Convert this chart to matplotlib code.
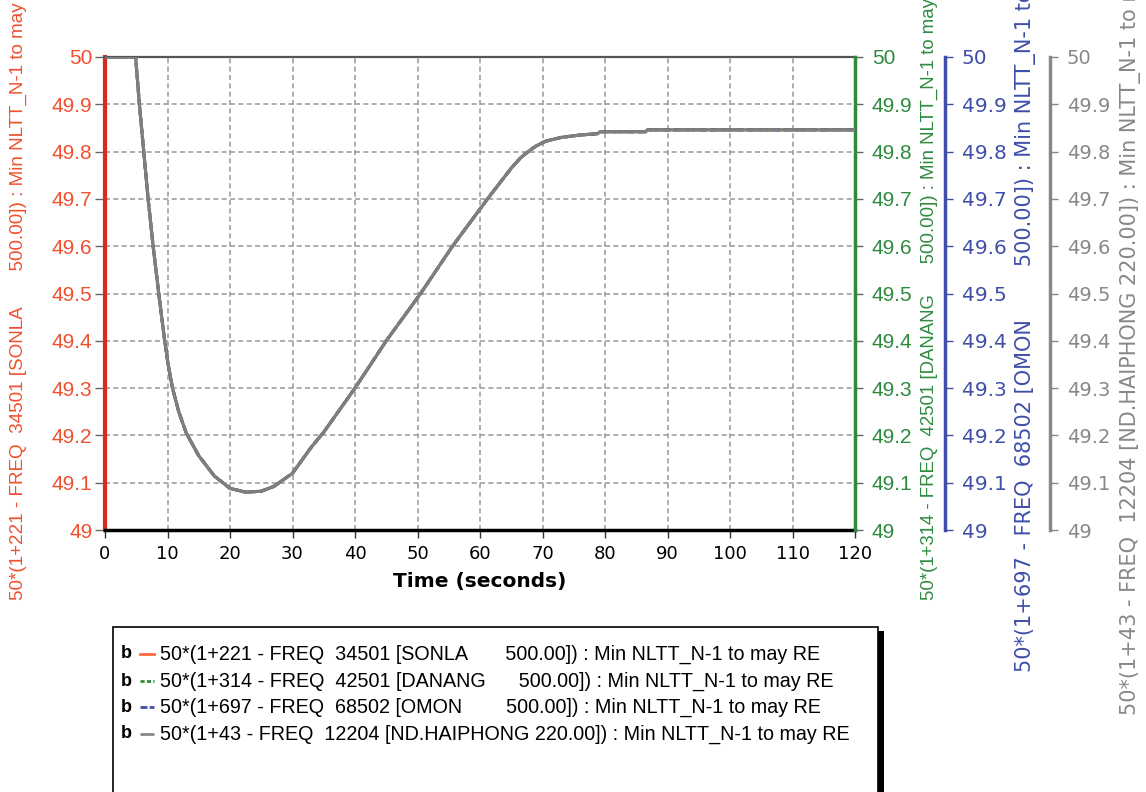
import numpy as np
import matplotlib
matplotlib.use("Agg")
import matplotlib.pyplot as plt
from matplotlib.lines import Line2D
from matplotlib.patches import Rectangle

# =========================================================
# DATA
# =========================================================

time_s = [0, 4.0, 4.9, 5.5, 6.2, 6.9, 7.7, 8.6, 9.5, 10.1, 10.8, 11.8, 13.0,
          15.0, 17.5, 20.0, 22.5, 25.0, 27.0, 30.0, 33.0, 35.0, 40.0, 45.0,
          50.5, 55.6, 61.2, 65.0, 66.5, 68.0, 69.0, 70.5, 73.0, 76.0, 78.8,
          79.2, 86.5, 86.8, 120]

# all four bus frequencies sit on top of each other in the picture
freq_curve = [50.0, 50.0, 50.0, 49.9, 49.8, 49.7, 49.6, 49.5, 49.405, 49.35,
              49.30, 49.25, 49.205, 49.157, 49.114, 49.088, 49.080, 49.082,
              49.092, 49.12, 49.175, 49.207, 49.30, 49.40, 49.50, 49.60,
              49.70, 49.765, 49.787, 49.803, 49.812, 49.822, 49.83, 49.835,
              49.838, 49.842, 49.842, 49.846, 49.846]

freq_sonla = list(freq_curve)
freq_danang = list(freq_curve)
freq_omon = list(freq_curve)
freq_haiphong = list(freq_curve)

labels = [
    "50*(1+221 - FREQ  34501 [SONLA       500.00]) : Min NLTT_N-1 to may RE",
    "50*(1+314 - FREQ  42501 [DANANG      500.00]) : Min NLTT_N-1 to may RE",
    "50*(1+697 - FREQ  68502 [OMON        500.00]) : Min NLTT_N-1 to may RE",
    "50*(1+43 - FREQ  12204 [ND.HAIPHONG 220.00]) : Min NLTT_N-1 to may RE",
]

x_ticks = list(range(0, 121, 10))
y_ticks = [49.0, 49.1, 49.2, 49.3, 49.4, 49.5, 49.6, 49.7, 49.8, 49.9, 50.0]
y_tick_labels = [f"{v:g}" for v in y_ticks]

# =========================================================
# STYLE
# =========================================================

W_PX, H_PX = 1146, 792
red_line = "#ff6a3d"
red_spine = "#d62a1e"
red_txt = "#f0502e"
green = "#2e8b3e"
blue = "#3f4fa8"
gray = "#888888"

arial = ["Liberation Sans", "DejaVu Sans"]


def fx(px):
    return px / W_PX


def fy(py):
    return 1 - py / H_PX


ax_l, ax_r, ax_t, ax_b = 105, 855, 57, 530

fig = plt.figure(figsize=(W_PX / 100, H_PX / 100), dpi=100)
ax = fig.add_axes([fx(ax_l), fy(ax_b), fx(ax_r - ax_l), (ax_b - ax_t) / H_PX])

# =========================================================
# AXES
# =========================================================

ax_g = ax.twinx()
ax_bl = ax.twinx()
ax_gr = ax.twinx()

ax.plot(time_s, freq_sonla, color=red_line, lw=2.2, zorder=3)
ax_g.plot(time_s, freq_danang, color=green, lw=2.2, ls="--", dashes=(2, 1))
ax_bl.plot(time_s, freq_omon, color=blue, lw=2.2, ls="--", dashes=(3, 1))
ax_gr.plot(time_s, freq_haiphong, color="#7f7f7f", lw=2.2)

for a in (ax, ax_g, ax_bl, ax_gr):
    a.set_xlim(0, 120)
    a.set_ylim(49, 50)

ax.set_xticks(x_ticks, [str(t) for t in x_ticks], fontsize=13)
ax.grid(True, color="#a0a0a0", lw=1.2, ls=(0, (3, 2)))
ax.set_axisbelow(True)

# main (left, red) axis
ax.set_yticks(y_ticks, y_tick_labels, fontsize=15, family=arial, color=red_txt)
ax.tick_params(axis="y", color="#666666", length=7, width=1, pad=2)
ax.tick_params(axis="x", color="#333333", length=6, width=1, pad=5)
ax.spines["left"].set_color(red_spine)
ax.spines["left"].set_linewidth(3)
ax.spines["bottom"].set_color("black")
ax.spines["bottom"].set_linewidth(2.5)
ax.spines["top"].set_color("#555555")
ax.spines["top"].set_linewidth(1.6)
ax.spines["right"].set_visible(False)

ax.set_xlabel("Time (seconds)", fontsize=14.5, fontweight="bold", labelpad=6)

ax.set_ylabel(labels[0][:-3], fontsize=13.6, family=arial, color=red_txt,
              ha="left")
ax.yaxis.set_label_coords((27 - ax_l) / (ax_r - ax_l), (ax_b - 600) / (ax_b - ax_t))

# twin axes on the right
right_axes = [
    (ax_g, green, 1.0, arial, 921, 600, labels[1], 15, 13.4),
    (ax_bl, blue, 1.12, ["DejaVu Sans"], 1015, 672, labels[2], 14.5, 15),
    (ax_gr, gray, 1.26, ["DejaVu Sans"], 1120, 715, labels[3], 14, 15),
]

for a, col, pos, fam, lab_x, lab_bottom, lab, fs, lfs in right_axes:
    for side in ("left", "top", "bottom"):
        a.spines[side].set_visible(False)
    a.spines["right"].set_position(("axes", pos))
    a.spines["right"].set_color(col)
    a.spines["right"].set_linewidth(2.5)
    a.set_yticks(y_ticks, y_tick_labels, fontsize=fs, family=fam, color=col)
    a.tick_params(axis="y", color=col if col != green else "#666666",
                  length=6, width=1, pad=6)
    a.set_ylabel(lab, fontsize=lfs, family=fam, color=col, ha="left")
    a.yaxis.set_label_coords((lab_x - ax_l) / (ax_r - ax_l),
                             (ax_b - lab_bottom) / (ax_b - ax_t))

# =========================================================
# LEGEND BOX
# =========================================================

box_l, box_t, box_r, box_b = 113, 627, 878, 800
fig.add_artist(Rectangle((fx(box_l + 6), fy(box_b)), fx(box_r - box_l),
                         (box_b - box_t - 4) / H_PX, transform=fig.transFigure,
                         facecolor="black", edgecolor="none", zorder=5))
fig.add_artist(Rectangle((fx(box_l), fy(box_b)), fx(box_r - box_l),
                         (box_b - box_t) / H_PX, transform=fig.transFigure,
                         facecolor="white", edgecolor="black", lw=1.2, zorder=6))

row_y = [654, 681, 707, 734]
handle_styles = [
    dict(color=red_line, ls="-"),
    dict(color=green, ls="--", dashes=(1.5, 0.8)),
    dict(color=blue, ls="--", dashes=(2.5, 0.8)),
    dict(color=gray, ls="-."),
]
for y, lab, st in zip(row_y, labels, handle_styles):
    fig.text(fx(121), fy(y), "b", fontsize=13, va="center", ha="left",
             family=arial, fontweight="bold", zorder=7)
    fig.add_artist(Line2D([fx(140), fx(154)], [fy(y), fy(y)],
                          transform=fig.transFigure, lw=2, zorder=7, **st))
    fig.text(fx(160), fy(y), lab, fontsize=14.2, va="center", ha="left",
             family=arial, zorder=7)

fig.savefig("out.png", dpi=100)
plt.close("all")
